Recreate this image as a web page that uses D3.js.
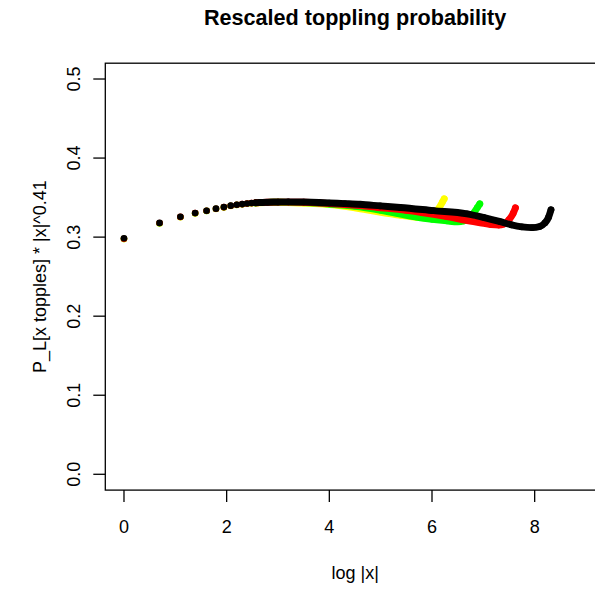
<!DOCTYPE html>
<html>
<head>
<meta charset="utf-8">
<script src="https://cdn.jsdelivr.net/npm/d3@7"></script>
<style>
html,body{margin:0;padding:0;background:#fff;overflow:hidden;}
svg{display:block;font-family:"Liberation Sans",Arial,Helvetica,sans-serif;}
</style>
</head>
<body>
<svg id="chart" width="595" height="590"></svg>
<script>
// ---- data ----
const chartTitle = "Rescaled toppling probability";
const xLabel = "log |x|";
const yLabel = "P_L[x topples] * |x|^0.41";
const xTicks = [0, 2, 4, 6, 8];
const yTicks = [0.0, 0.1, 0.2, 0.3, 0.4, 0.5];
const seriesNames = ["yellow", "green", "red", "black"];
const seriesColors = ["#ffff00", "#00ff00", "#ff0000", "#000000"];

// log|x| and rescaled probability for each series
const yellowX = [0, 0.693, 1.099, 1.386, 1.609, 1.792, 1.946, 2.079, 2.197, 2.303, 2.398, 2.485, 2.565, 2.639, 2.8, 3.0, 3.5, 3.95, 4.5, 4.95, 5.4, 5.7, 5.85, 5.95, 6.05, 6.13, 6.2, 6.238];
const yellowY = [0.2975, 0.3172, 0.3252, 0.3300, 0.3330, 0.3356, 0.3376, 0.3394, 0.3406, 0.3415, 0.3422, 0.3428, 0.3432, 0.3435, 0.3438, 0.3440, 0.3430, 0.3415, 0.3370, 0.3320, 0.3275, 0.3250, 0.3245, 0.3255, 0.3290, 0.3360, 0.3440, 0.3485];

const greenX = [0, 0.693, 1.099, 1.386, 1.609, 1.792, 1.946, 2.079, 2.197, 2.303, 2.398, 2.485, 2.565, 2.639, 2.8, 3.0, 3.5, 4.0, 4.5, 5.0, 5.64, 6.0, 6.29, 6.5, 6.62, 6.72, 6.8, 6.88, 6.931];
const greenY = [0.2978, 0.3175, 0.3254, 0.3302, 0.3332, 0.3358, 0.3378, 0.3396, 0.3408, 0.3416, 0.3423, 0.3429, 0.3433, 0.3436, 0.3439, 0.3442, 0.3436, 0.3418, 0.3390, 0.3340, 0.3260, 0.3225, 0.3205, 0.3195, 0.3205, 0.3240, 0.3295, 0.3370, 0.3420];

const redX = [0, 0.693, 1.099, 1.386, 1.609, 1.792, 1.946, 2.079, 2.197, 2.303, 2.398, 2.485, 2.565, 2.639, 2.8, 3.0, 3.2, 3.5, 3.8, 4.0, 4.3, 4.6, 4.95, 5.2, 5.5, 5.8, 6.29, 6.6, 6.94, 7.15, 7.3, 7.4, 7.5, 7.58, 7.625];
const redY = [0.2980, 0.3178, 0.3256, 0.3304, 0.3333, 0.3359, 0.3379, 0.3397, 0.3409, 0.3417, 0.3424, 0.3430, 0.3434, 0.3437, 0.3441, 0.3443, 0.3443, 0.3440, 0.3432, 0.3425, 0.3413, 0.3400, 0.3375, 0.3360, 0.3338, 0.3312, 0.3259, 0.3220, 0.3182, 0.3158, 0.3152, 0.3165, 0.3220, 0.3300, 0.3370];

const blackX = [0, 0.693, 1.099, 1.386, 1.609, 1.792, 1.946, 2.079, 2.197, 2.303, 2.398, 2.485, 2.565, 2.639, 2.8, 3.0, 3.2, 3.5, 3.8, 4.0, 4.3, 4.6, 4.99, 5.38, 6.03, 6.68, 7.0, 7.33, 7.55, 7.75, 7.95, 8.1, 8.2, 8.27, 8.318];
const blackY = [0.2985, 0.3180, 0.3258, 0.3305, 0.3334, 0.3360, 0.3380, 0.3398, 0.3410, 0.3418, 0.3425, 0.3431, 0.3435, 0.3438, 0.3442, 0.3445, 0.3446, 0.3444, 0.3438, 0.3432, 0.3424, 0.3415, 0.3395, 0.3375, 0.3335, 0.3295, 0.3250, 0.3195, 0.3155, 0.3130, 0.3120, 0.3135, 0.3180, 0.3250, 0.3345];

const seriesX = [yellowX, greenX, redX, blackX];
const seriesY = [yellowY, greenY, redY, blackY];

// ---- layout ----
const svg = d3.select("#chart");
const plotLeft = 105.3, plotRight = 605.0, plotTop = 63.2, plotBottom = 490.1;
const x = d3.scaleLinear().domain([-0.364, 9.37]).range([plotLeft, plotRight]);
const y = d3.scaleLinear().domain([-0.02, 0.52]).range([plotBottom, plotTop]);
const fs = 18;
const dotR = 3.3;
const denseFrom = 2.5;

// series
const clip = svg.append("defs").append("clipPath").attr("id", "clip")
  .append("rect").attr("x", plotLeft).attr("y", plotTop)
  .attr("width", plotRight - plotLeft).attr("height", plotBottom - plotTop);

const g = svg.append("g").attr("clip-path", "url(#clip)");
const line = d3.line().x(d => x(d[0])).y(d => y(d[1])).curve(d3.curveMonotoneX);

seriesNames.forEach((name, i) => {
  const pts = seriesX[i].map((v, j) => [v, seriesY[i][j]]);
  const dense = pts.filter(p => p[0] >= denseFrom);
  g.append("path")
    .datum(dense)
    .attr("d", line)
    .attr("fill", "none")
    .attr("stroke", seriesColors[i])
    .attr("stroke-width", dotR * 2.1)
    .attr("stroke-linecap", "round")
    .attr("stroke-linejoin", "round");
  g.selectAll("circle.s" + i)
    .data(pts)
    .enter().append("circle")
    .attr("class", "s" + i)
    .attr("cx", d => x(d[0]))
    .attr("cy", d => y(d[1]))
    .attr("r", dotR)
    .attr("fill", seriesColors[i]);
});

// box
svg.append("rect")
  .attr("x", plotLeft).attr("y", plotTop)
  .attr("width", plotRight - plotLeft).attr("height", plotBottom - plotTop)
  .attr("fill", "none").attr("stroke", "#000").attr("stroke-width", 1.3);

// x axis
const xa = svg.append("g");
xa.selectAll("line").data(xTicks).enter().append("line")
  .attr("x1", d => x(d)).attr("x2", d => x(d))
  .attr("y1", plotBottom).attr("y2", plotBottom + 12)
  .attr("stroke", "#000").attr("stroke-width", 1.3);
xa.selectAll("text").data(xTicks).enter().append("text")
  .attr("x", d => x(d)).attr("y", 533)
  .attr("text-anchor", "middle").attr("font-size", fs)
  .text(d => d3.format("d")(d));

// y axis
const ya = svg.append("g");
ya.selectAll("line").data(yTicks).enter().append("line")
  .attr("x1", plotLeft - 12).attr("x2", plotLeft)
  .attr("y1", d => y(d)).attr("y2", d => y(d))
  .attr("stroke", "#000").attr("stroke-width", 1.3);
ya.selectAll("text").data(yTicks).enter().append("text")
  .attr("transform", d => `translate(80,${y(d)}) rotate(-90)`)
  .attr("text-anchor", "middle").attr("font-size", fs)
  .text(d => d3.format(".1f")(d));

// titles
const cx = (plotLeft + plotRight) / 2;
svg.append("text").attr("x", cx).attr("y", 25)
  .attr("text-anchor", "middle").attr("font-size", 21.6).attr("font-weight", "bold")
  .text(chartTitle);
svg.append("text").attr("x", cx).attr("y", 579)
  .attr("text-anchor", "middle").attr("font-size", fs)
  .text(xLabel);
svg.append("text")
  .attr("transform", `translate(45.5,${(plotTop + plotBottom) / 2}) rotate(-90)`)
  .attr("text-anchor", "middle").attr("font-size", fs)
  .text(yLabel);
</script>
</body>
</html>
